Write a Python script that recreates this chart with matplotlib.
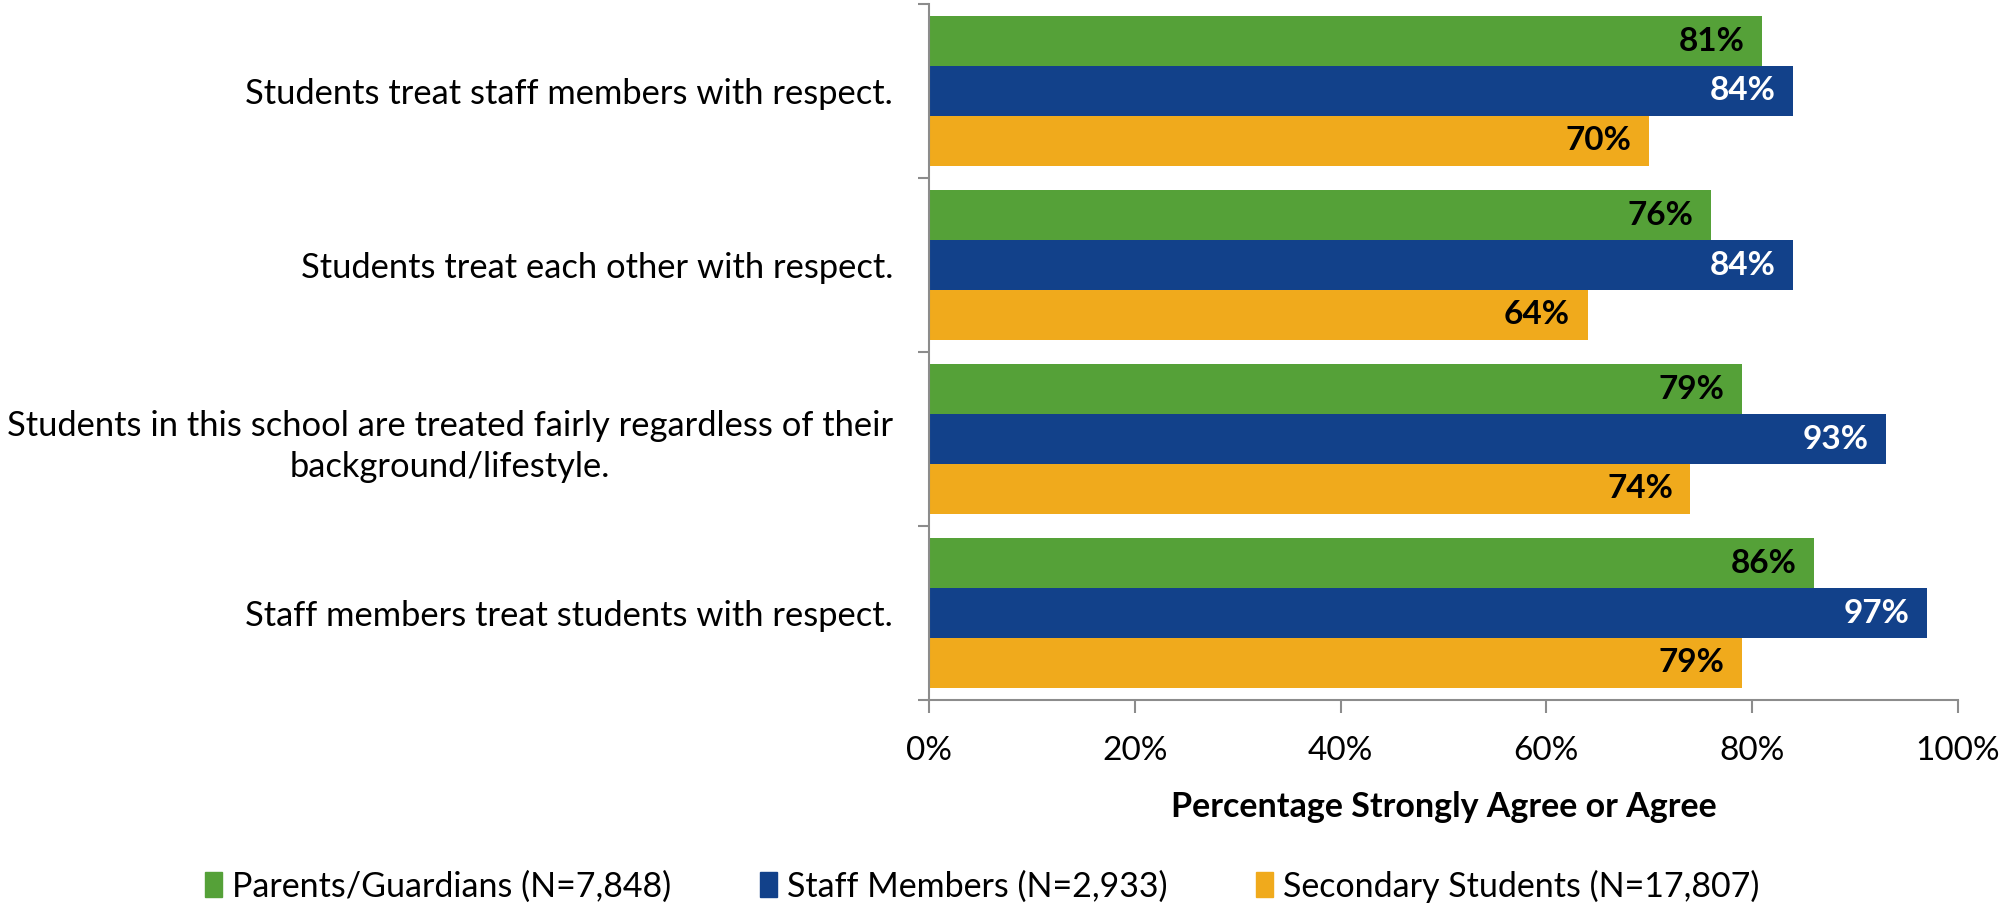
import matplotlib
matplotlib.use("Agg")
import matplotlib.pyplot as plt
import numpy as np

plt.rcParams['font.family'] = ['Lato', 'DejaVu Sans']

categories = [
    "Students treat staff members with respect.",
    "Students treat each other with respect.",
    "Students in this school are treated fairly regardless of their\nbackground/lifestyle.",
    "Staff members treat students with respect.",
]
series_names = ["Parents/Guardians (N=7,848)", "Staff Members (N=2,933)", "Secondary Students (N=17,807)"]
parents = [81, 76, 79, 86]
staff = [84, 84, 93, 97]
students = [70, 64, 74, 79]
xticks = [0, 20, 40, 60, 80, 100]
xtick_labels = ["0%", "20%", "40%", "60%", "80%", "100%"]

colors = ["#55A138", "#12418A", "#F0AA1C"]
label_colors = ["black", "white", "black"]

fig = plt.figure(figsize=(20, 9.07), dpi=100)
ax = fig.add_axes([0.4645, 0.2282, 0.979 - 0.4645, 0.9956 - 0.2282])

n = len(categories)
bh = 0.2857
y = np.arange(n)
all_series = [parents, staff, students]
for i, (vals, c, lc) in enumerate(zip(all_series, colors, label_colors)):
    pos = y + (i - 1) * bh
    bars = ax.barh(pos, vals, height=bh, color=c, edgecolor='none')
    for b, v in zip(bars, vals):
        ax.text(v - 1.7, b.get_y() + b.get_height() / 2, f"{v}%", ha='right', va='center',
                fontsize=24, fontweight='bold', color=lc)

ax.set_xlim(0, 100)
ax.set_ylim(n - 0.5, -0.5)
ax.set_xticks(xticks)
ax.set_xticklabels(xtick_labels, fontsize=24)
ax.set_yticks(y)
ax.set_yticklabels(categories, fontsize=24.8, multialignment='center', linespacing=1.35)
ax.set_yticks(np.arange(n + 1) - 0.5, minor=True)
ax.tick_params(axis='y', which='major', length=0, pad=26)
ax.tick_params(axis='y', which='minor', length=8, width=1.5, color='#8C8C8C', direction='out')
ax.tick_params(axis='x', which='major', length=9, width=1.5, color='#8C8C8C', direction='out', pad=17)
for s in ['top', 'right']:
    ax.spines[s].set_visible(False)
for s in ['left', 'bottom']:
    ax.spines[s].set_color('#8C8C8C')
    ax.spines[s].set_linewidth(1.5)
ax.set_xlabel("Percentage Strongly Agree or Agree", fontsize=24.5, fontweight='bold', labelpad=18)

handles = [plt.Rectangle((0, 0), 1, 1, color=c) for c in colors]
fig.legend(handles, series_names, loc='center', bbox_to_anchor=(0.491, 0.023), ncol=3,
           frameon=False, fontsize=24.5, handlelength=0.5, handleheight=0.75, handletextpad=0.3,
           columnspacing=2.6)

fig.savefig("out.png", dpi=100)
